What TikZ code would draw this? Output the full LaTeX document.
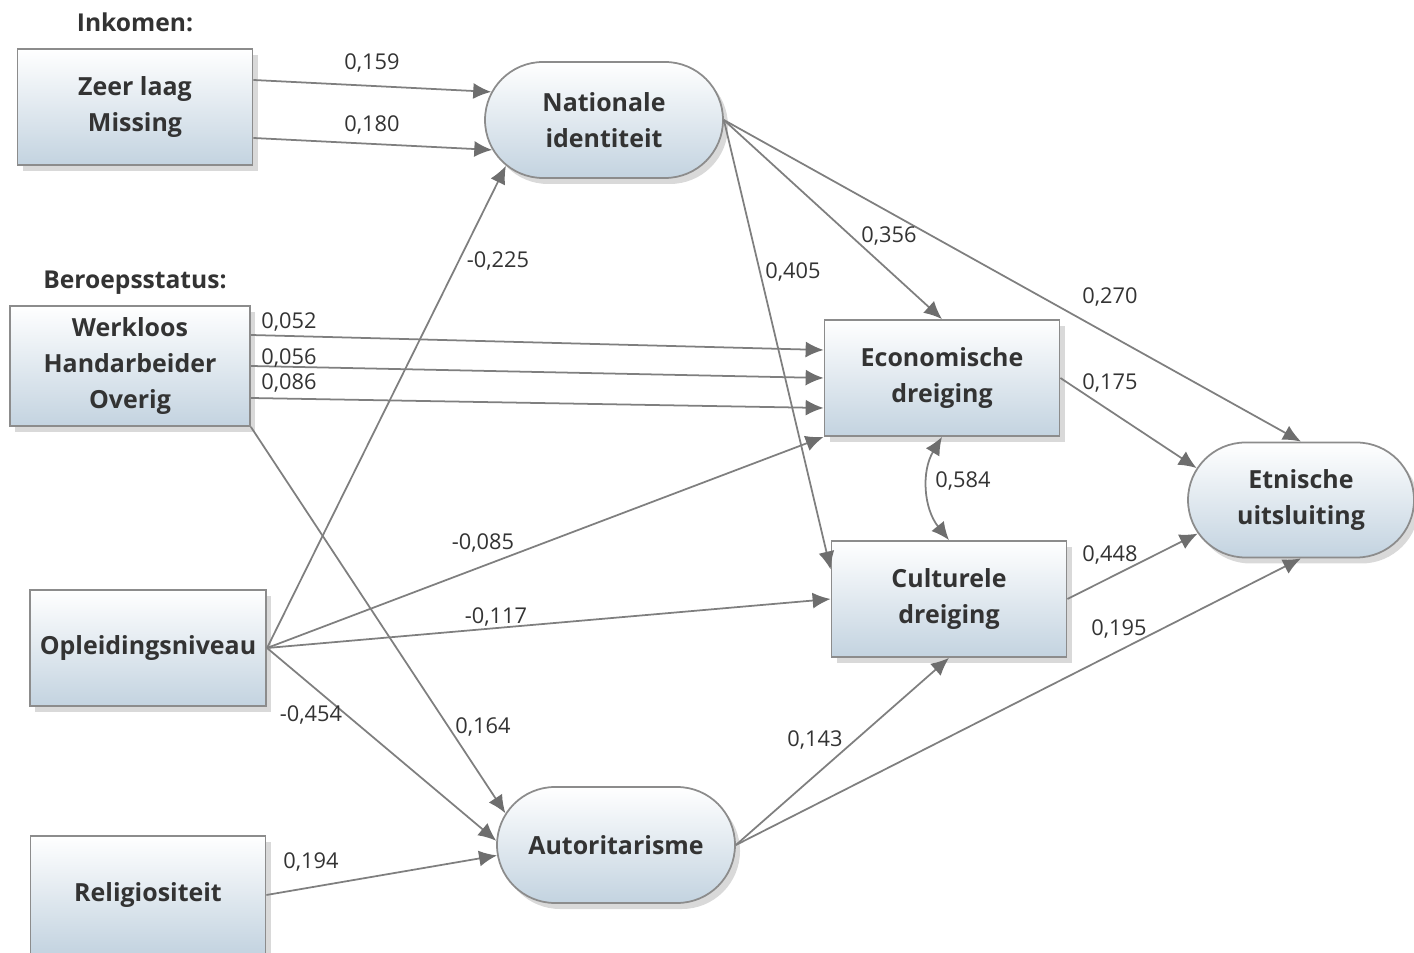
\documentclass[tikz,border=0pt]{standalone}
\usepackage{fontspec}
\setmainfont{Open Sans}
\usetikzlibrary{arrows.meta}
\usetikzlibrary{shapes.misc}
\usetikzlibrary{shadows}
\definecolor{boxblue}{HTML}{C3D3E0}
\definecolor{linegray}{HTML}{7F7F7F}
\definecolor{tipgray}{HTML}{6E6E6E}
\definecolor{textgray}{HTML}{333333}

\begin{document}
\begin{tikzpicture}[x=0.1mm,y=-0.1mm,
  var/.style={draw=gray!90,line width=0.5pt,top color=white,bottom color=boxblue,drop shadow={opacity=0.3,shadow xshift=0.5mm,shadow yshift=-0.6mm},minimum width=23.5mm,minimum height=11.6mm,inner xsep=1mm,align=center,font=\fontsize{7.1}{10.2}\selectfont\bfseries,text=textgray},
  latent/.style={var,rounded rectangle,minimum width=25.8mm},
  effect/.style={draw=linegray,line width=0.5pt,-{Latex[length=1.8mm,width=1.6mm,color=tipgray]}},
  coef/.style={font=\fontsize{6.2}{7}\selectfont,text=textgray,inner sep=1pt},
  head/.style={font=\fontsize{7}{9}\selectfont\bfseries,text=textgray}]
  \useasboundingbox (0,0) rectangle (1414,953);
  %left
  \node[head] (inkomen) at (135,22) {Inkomen:};
  \node[var] (ink) at (135,107) {Zeer laag\\Missing};
  \node[head] (beroep) at (135,283) {Beroepsstatus:};
  \node[var,minimum width=24mm,minimum height=11.8mm] (ber) at (130,366) {Werkloos\\Handarbeider\\Overig};
  \node[var] (opl) at (148,648) {Opleidingsniveau};
  \node[var,minimum height=11.8mm] (rel) at (148,895) {Religiositeit};
  %middle
  \node[latent] (nat) at (604,120) {Nationale\\identiteit};
  \node[latent] (aut) at (616,845) {Autoritarisme};
  \node[var] (econ) at (942,378) {Economische\\dreiging};
  \node[var] (cult) at (949,599) {Culturele\\dreiging};
  %right
  \node[latent,minimum width=24.6mm,minimum height=11.5mm] (etn) at (1301,500) {Etnische\\uitsluiting};

  %paths
  \draw[effect] ([yshift=2.7mm]ink.east) -- (nat.166);
  \draw[effect] ([yshift=-3.1mm]ink.east) -- (nat.195);
  \draw[effect] (opl.east) -- (nat.205);
  \draw[effect] ([yshift=3.1mm]ber.east) -- ([yshift=2.8mm]econ.west);
  \draw[effect] (ber.east) -- (econ.west);
  \draw[effect] ([yshift=-3.2mm]ber.east) -- ([yshift=-3mm]econ.west);
  \draw[effect] (ber.south east) -- (aut.164);
  \draw[effect] (opl.east) -- (econ.south west);
  \draw[effect] (opl.east) -- (cult.west);
  \draw[effect] (opl.east) -- (aut.178);
  \draw[effect] (rel.east) -- (aut.185);
  \draw[effect] (nat.east) -- (econ.north);
  \draw[effect] (nat.east) -- (cult.166);
  \draw[effect] (nat.east) -- (etn.north);
  \draw[effect] (aut.east) -- (cult.south);
  \draw[effect] (aut.east) -- (etn.south);
  \draw[effect] (econ.east) -- (etn.163);
  \draw[effect] (cult.east) -- (etn.198);
  \draw[effect,{Latex[length=1.8mm,width=1.6mm,color=tipgray]}-{Latex[length=1.8mm,width=1.6mm,color=tipgray]}] (econ.south) to[bend right=35] (cult.north);

  %coefficients
  \node[coef] (c159) at (372,63) {0,159};
  \node[coef] (c180) at (372,125) {0,180};
  \node[coef] (c225) at (498,261) {-0,225};
  \node[coef] (c356) at (889,236) {0,356};
  \node[coef] (c405) at (793,272) {0,405};
  \node[coef] (c270) at (1110,297) {0,270};
  \node[coef] (c052) at (289,322) {0,052};
  \node[coef] (c056) at (289,358) {0,056};
  \node[coef] (c086) at (289,383) {0,086};
  \node[coef] (c164) at (483,727) {0,164};
  \node[coef] (c085) at (483,543) {-0,085};
  \node[coef] (c117) at (496,617) {-0,117};
  \node[coef] (c454) at (311,715) {-0,454};
  \node[coef] (c194) at (311,862) {0,194};
  \node[coef] (c143) at (815,740) {0,143};
  \node[coef] (c195) at (1119,629) {0,195};
  \node[coef] (c175) at (1110,383) {0,175};
  \node[coef] (c448) at (1110,555) {0,448};
  \node[coef] (c584) at (963,481) {0,584};
\end{tikzpicture}
\end{document}
